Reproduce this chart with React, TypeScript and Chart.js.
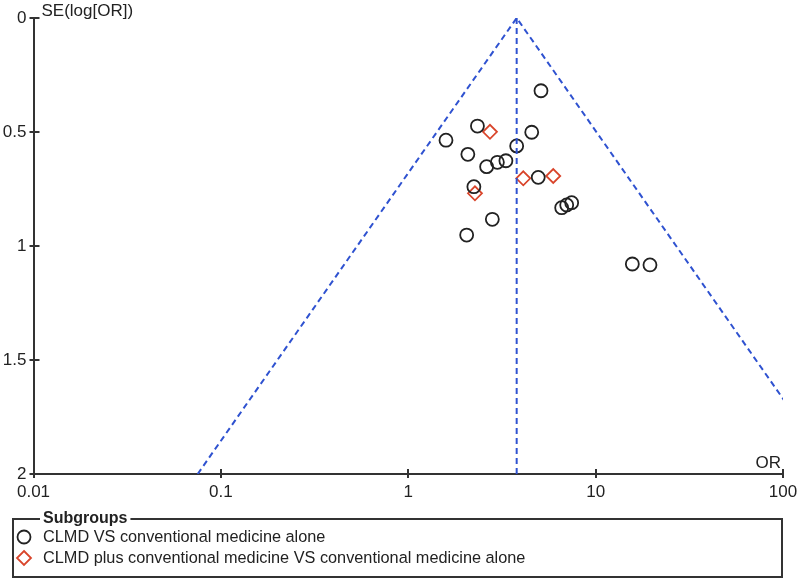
import React, { useEffect, useRef } from "react";
import { Chart, registerables } from "chart.js";

Chart.register(...registerables);

// Subgroup 1: CLMD VS conventional medicine alone
const group1OR = [5.11, 2.34, 4.56, 1.59, 3.79, 2.08, 3.32, 2.99, 2.62, 4.94, 2.24, 7.45, 7.01, 6.59, 2.81, 2.05, 15.7, 19.5];
const group1SE = [0.319, 0.474, 0.501, 0.536, 0.561, 0.598, 0.626, 0.633, 0.652, 0.699, 0.74, 0.81, 0.82, 0.832, 0.883, 0.952, 1.079, 1.083];
// Subgroup 2: CLMD plus conventional medicine VS conventional medicine alone
const group2OR = [2.73, 4.11, 5.94, 2.27];
const group2SE = [0.499, 0.703, 0.693, 0.769];

const pooledOR = 3.79;
const xTicks = [0.01, 0.1, 1, 10, 100];
const xTickLabels = ["0.01", "0.1", "1", "10", "100"];
const yTicks = [0, 0.5, 1, 1.5, 2];
const yTickLabels = ["0", "0.5", "1", "1.5", "2"];
const legendTitle = "Subgroups";
const seriesNames = [
  "CLMD VS conventional medicine alone",
  "CLMD plus conventional medicine VS conventional medicine alone",
];
const yTitle = "SE(log[OR])";
const xTitle = "OR";

const FONT = "'Liberation Sans', Arial, sans-serif";
const TEXT = "#222";
const AXIS = "#333";
const BLUE = "#2f52d0";
const RED = "#d9452b";

export default function App() {
  const ref = useRef<HTMLCanvasElement | null>(null);
  useEffect(() => {
    if (!ref.current) return;
    const seMax = 2;
    const lnP = Math.log(pooledOR);
    const funnel = [
      { x: Math.exp(lnP - 1.96 * seMax), y: seMax },
      { x: pooledOR, y: 0 },
      { x: Math.exp(lnP + 1.96 * seMax), y: seMax },
    ];
    const vline = [
      { x: pooledOR, y: 0 },
      { x: pooledOR, y: seMax },
    ];

    const decor = {
      id: "decor",
      afterDraw(chart: any) {
        const ctx = chart.ctx;
        const xs = chart.scales.x;
        const ys = chart.scales.y;
        const area = chart.chartArea;
        ctx.save();
        ctx.strokeStyle = AXIS;
        ctx.lineWidth = 2;
        // tick marks crossing axes
        for (const t of xTicks) {
          const px = Math.round(xs.getPixelForValue(t));
          ctx.beginPath();
          ctx.moveTo(px, area.bottom - 5);
          ctx.lineTo(px, area.bottom + 4);
          ctx.stroke();
        }
        for (const t of yTicks) {
          const py = Math.round(ys.getPixelForValue(t));
          ctx.beginPath();
          ctx.moveTo(area.left - 4, py);
          ctx.lineTo(area.left + 6, py);
          ctx.stroke();
        }
        // axis titles
        ctx.fillStyle = TEXT;
        ctx.font = `17px ${FONT}`;
        ctx.textBaseline = "middle";
        ctx.textAlign = "left";
        ctx.fillText(yTitle, area.left + 8, 11);
        ctx.textAlign = "right";
        ctx.fillText(xTitle, area.right - 2, area.bottom - 11);

        // legend box
        const bx = 13, by = 519, bw = 769, bh = 58;
        ctx.font = `bold 16px ${FONT}`;
        const tw = ctx.measureText(legendTitle).width;
        ctx.lineWidth = 2;
        ctx.strokeStyle = AXIS;
        ctx.beginPath();
        ctx.moveTo(bx + 27, by);
        ctx.lineTo(bx, by);
        ctx.lineTo(bx, by + bh);
        ctx.lineTo(bx + bw, by + bh);
        ctx.lineTo(bx + bw, by);
        ctx.lineTo(bx + 30 + tw + 3, by);
        ctx.stroke();
        ctx.textAlign = "left";
        ctx.textBaseline = "middle";
        ctx.fillText(legendTitle, bx + 30, by);

        ctx.font = `16.3px ${FONT}`;
        ctx.lineWidth = 1.8;
        // circle symbol
        ctx.strokeStyle = "#222";
        ctx.beginPath();
        ctx.arc(24, 537, 6.5, 0, Math.PI * 2);
        ctx.stroke();
        ctx.fillText(seriesNames[0], 43, 538);
        // diamond symbol
        ctx.strokeStyle = RED;
        ctx.beginPath();
        ctx.moveTo(24, 551);
        ctx.lineTo(31, 558);
        ctx.lineTo(24, 565);
        ctx.lineTo(17, 558);
        ctx.closePath();
        ctx.stroke();
        ctx.fillText(seriesNames[1], 43, 559);
        ctx.restore();
      },
    };

    const chart = new Chart(ref.current, {
      type: "scatter",
      data: {
        datasets: [
          {
            type: "line",
            data: funnel,
            borderColor: BLUE,
            borderWidth: 2,
            borderDash: [6, 4],
            pointRadius: 0,
            fill: false,
            tension: 0,
          },
          {
            type: "line",
            data: vline,
            borderColor: BLUE,
            borderWidth: 2,
            borderDash: [6, 4],
            pointRadius: 0,
            fill: false,
          },
          {
            label: seriesNames[0],
            data: group1OR.map((v, i) => ({ x: v, y: group1SE[i] })),
            pointStyle: "circle",
            pointRadius: 6.5,
            borderColor: "#222",
            borderWidth: 1.8,
            backgroundColor: "rgba(0,0,0,0)",
          },
          {
            label: seriesNames[1],
            data: group2OR.map((v, i) => ({ x: v, y: group2SE[i] })),
            pointStyle: "rectRot",
            pointRadius: 7,
            borderColor: RED,
            borderWidth: 1.8,
            backgroundColor: "rgba(0,0,0,0)",
          },
        ],
      },
      options: {
        responsive: false,
        animation: false,
        devicePixelRatio: 1,
        layout: { padding: { top: 18, right: 17, left: 0, bottom: 0 } },
        plugins: { legend: { display: false }, tooltip: { enabled: false } },
        scales: {
          x: {
            type: "logarithmic",
            min: 0.01,
            max: 100,
            grid: { display: false, drawTicks: false, tickLength: 0 },
            border: { display: true, color: AXIS, width: 2 },
            afterBuildTicks: (s: any) => {
              s.ticks = xTicks.map((v) => ({ value: v }));
            },
            afterFit: (s: any) => {
              s.height = 107;
              s.paddingLeft = 0;
              s.paddingRight = 0;
            },
            ticks: {
              autoSkip: false,
              maxRotation: 0,
              padding: 8,
              color: TEXT,
              font: { family: FONT, size: 17 },
              callback: (v: any) => {
                const i = xTicks.indexOf(Number(v));
                return i >= 0 ? xTickLabels[i] : "";
              },
            },
          },
          y: {
            type: "linear",
            reverse: true,
            min: 0,
            max: 2,
            grid: { display: false, drawTicks: false, tickLength: 0 },
            border: { display: true, color: AXIS, width: 2 },
            afterBuildTicks: (s: any) => {
              s.ticks = yTicks.map((v) => ({ value: v }));
            },
            afterFit: (s: any) => {
              s.width = 33.5;
              s.paddingTop = 0;
              s.paddingBottom = 0;
            },
            ticks: {
              autoSkip: false,
              padding: 7,
              color: TEXT,
              font: { family: FONT, size: 17 },
              callback: (v: any) => {
                const i = yTicks.indexOf(Number(v));
                return i >= 0 ? yTickLabels[i] : "";
              },
            },
          },
        },
      },
      plugins: [decor],
    } as any);
    return () => chart.destroy();
  }, []);

  return (
    <div style={{ position: "absolute", left: 0, top: 0, width: 800, height: 581, background: "#fff" }}>
      <canvas ref={ref} width={800} height={581} />
    </div>
  );
}
